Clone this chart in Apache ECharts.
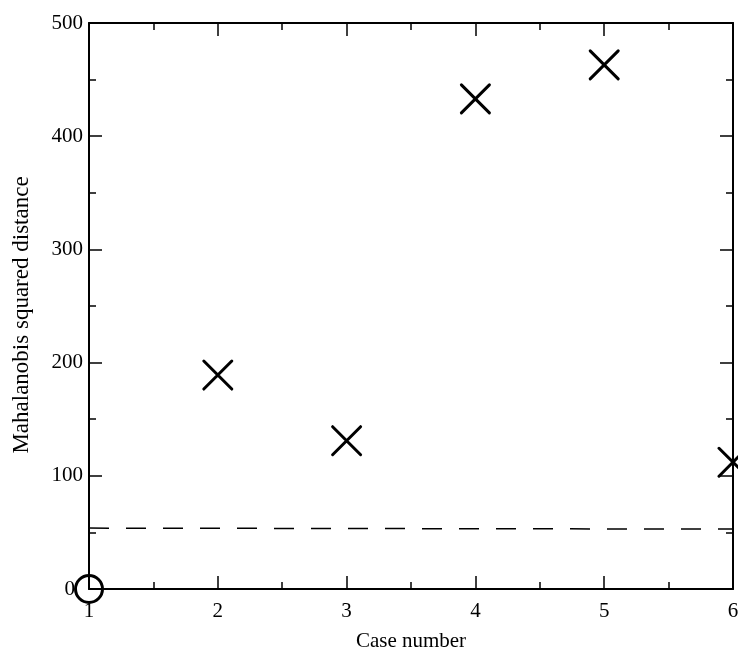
<!DOCTYPE html>
<html>
<head>
<meta charset="utf-8">
<script src="https://cdn.jsdelivr.net/npm/echarts@6/dist/echarts.min.js"></script>
<style>html,body{margin:0;padding:0;background:#fff;}#c{width:738px;height:652px;}</style>
</head>
<body>
<div id="c"></div>
<script>
const caseNumbers = [2, 3, 4, 5, 6];
const distances = [189, 131, 433, 463, 112];
const baseCase = [1];
const baseDistance = [0];
const cutoffX = [1, 6];
const cutoffY = [53.8, 52.9];
const xTicks = [1, 2, 3, 4, 5, 6];
const yTicks = [0, 100, 200, 300, 400, 500];

const font = 'Liberation Serif';
const chart = echarts.init(document.getElementById('c'), null, {renderer: 'canvas'});
const axisCommon = {
  type: 'value',
  axisLine: {show: true, onZero: false, lineStyle: {color: '#000', width: 2}},
  axisTick: {show: true, inside: true, length: 13, lineStyle: {color: '#000', width: 1.5}},
  minorTick: {show: true, splitNumber: 2, length: 7, lineStyle: {color: '#000', width: 1.5}},
  splitLine: {show: false}
};
chart.setOption({
  animation: false,
  backgroundColor: '#fff',
  grid: {left: 89, right: 5, top: 23, bottom: 63, containLabel: false, outerBoundsMode: 'none'},
  xAxis: [
    Object.assign({}, axisCommon, {
      min: xTicks[0], max: xTicks[xTicks.length - 1], interval: 1,
      position: 'bottom',
      name: 'Case number', nameLocation: 'middle', nameGap: 42,
      nameTextStyle: {fontFamily: font, fontSize: 21, color: '#000'},
      axisLabel: {fontFamily: font, fontSize: 21, color: '#000', margin: 12}
    }),
    Object.assign({}, axisCommon, {
      min: xTicks[0], max: xTicks[xTicks.length - 1], interval: 1,
      position: 'top', axisLabel: {show: false}
    })
  ],
  yAxis: [
    Object.assign({}, axisCommon, {
      min: yTicks[0], max: yTicks[yTicks.length - 1], interval: 100,
      position: 'left',
      name: 'Mahalanobis squared distance', nameLocation: 'middle', nameGap: 56,
      nameTextStyle: {fontFamily: font, fontSize: 23, color: '#000', padding: [0, 18, 0, 0]},
      axisLabel: {
        fontFamily: font, fontSize: 21, color: '#000', margin: 6,
        formatter: function (v) { return v === 0 ? '{z|0}' : String(v); },
        rich: {z: {fontFamily: font, fontSize: 21, color: '#000', padding: [0, 8, 0, 0]}}
      }
    }),
    Object.assign({}, axisCommon, {
      min: yTicks[0], max: yTicks[yTicks.length - 1], interval: 100,
      position: 'right', axisLabel: {show: false}
    })
  ],
  series: [
    {
      type: 'line',
      data: cutoffX.map((x, i) => [x, cutoffY[i]]),
      symbol: 'none',
      lineStyle: {color: '#000', width: 1.5, type: [20, 17]},
      z: 2
    },
    {
      type: 'scatter',
      data: caseNumbers.map((x, i) => [x, distances[i]]),
      symbol: 'path://M0,0L10,10M10,0L0,10',
      symbolSize: 28,
      itemStyle: {color: 'none', borderColor: '#000', borderWidth: 3, borderCap: 'round', opacity: 1},
      clip: false,
      z: 3
    },
    {
      type: 'scatter',
      data: baseCase.map((x, i) => [x, baseDistance[i]]),
      symbol: 'circle',
      symbolSize: 27,
      itemStyle: {color: 'none', borderColor: '#000', borderWidth: 3, opacity: 1},
      clip: false,
      z: 3
    }
  ]
});
</script>
</body>
</html>
